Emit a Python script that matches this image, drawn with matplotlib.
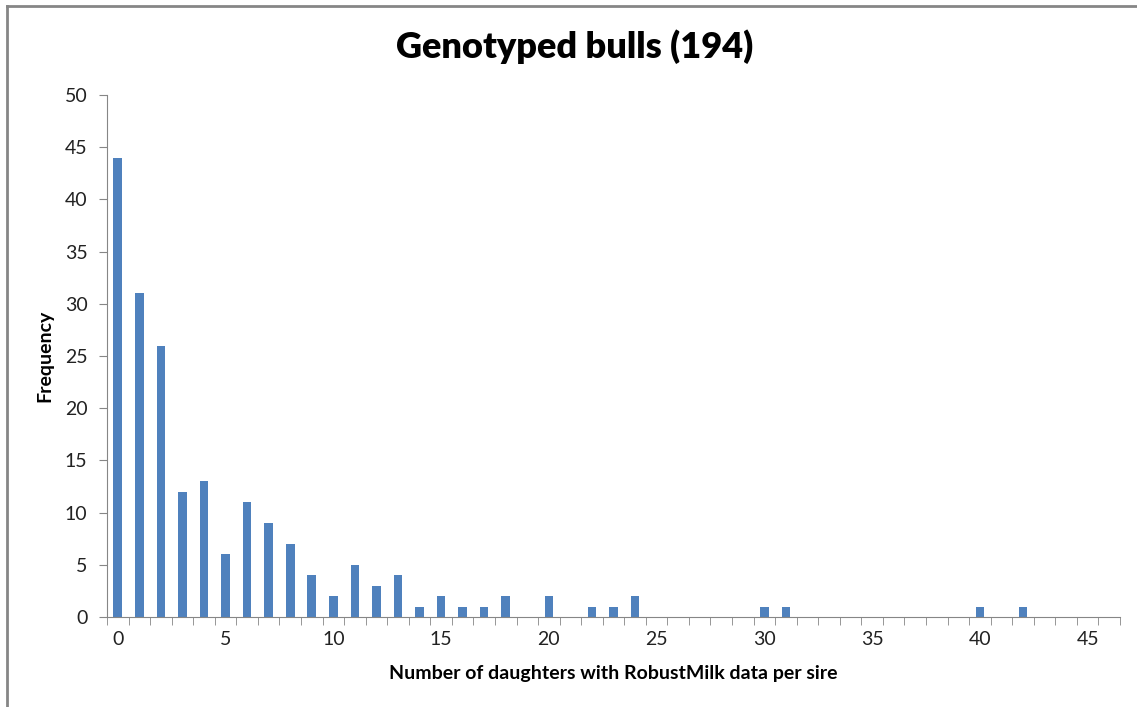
import matplotlib.pyplot as plt
from matplotlib.lines import Line2D
import numpy as np

plt.rcParams['font.family'] = ['Lato', 'DejaVu Sans']

# frequency per number of daughters (0..46)
daughters = np.arange(47)
freq = np.zeros(47)
counts = {0: 44, 1: 31, 2: 26, 3: 12, 4: 13, 5: 6, 6: 11, 7: 9, 8: 7, 9: 4,
          10: 2, 11: 5, 12: 3, 13: 4, 14: 1, 15: 2, 16: 1, 17: 1, 18: 2,
          20: 2, 22: 1, 23: 1, 24: 2, 30: 1, 31: 1, 40: 1, 42: 1}
for k, v in counts.items():
    freq[k] = v

fig = plt.figure(figsize=(11.37, 7.07), dpi=100)
ax = fig.add_axes([107/1137, 1 - 617/707, (1120-107)/1137, (617-95)/707])

ax.bar(daughters, freq, width=0.4, color='#4F81BD')

ax.set_xlim(-0.5, 46.5)
ax.set_ylim(0, 50)
ax.set_yticks(np.arange(0, 51, 5))
ax.set_xticks(np.arange(0, 46, 5))
ax.set_xticks(np.arange(-0.5, 47, 1), minor=True)
ax.tick_params(axis='x', which='major', length=0, labelsize=14, pad=10, colors='#222222')
ax.tick_params(axis='x', which='minor', length=6, color='#868686', direction='out')
ax.tick_params(axis='y', length=6, color='#868686', labelsize=14, pad=8, labelcolor='#222222')

for s in ['top', 'right']:
    ax.spines[s].set_visible(False)
for s in ['left', 'bottom']:
    ax.spines[s].set_color('#868686')

ax.set_xlabel('Number of daughters with RobustMilk data per sire', fontsize=14,
              fontweight='bold', labelpad=12)
ax.set_ylabel('Frequency', fontsize=14, fontweight='bold', labelpad=8)

fig.text(0.505, 1 - 47/707, 'Genotyped bulls (194)', fontsize=26, fontweight='heavy',
         ha='center', va='center')

# chart area border
fig.add_artist(Line2D([7/1137, 7/1137], [0, 1 - 6/707], color='#868686', lw=2,
                      transform=fig.transFigure))
fig.add_artist(Line2D([7/1137, 1], [1 - 6/707, 1 - 6/707], color='#868686', lw=2,
                      transform=fig.transFigure))

fig.savefig('out.png', dpi=100)
